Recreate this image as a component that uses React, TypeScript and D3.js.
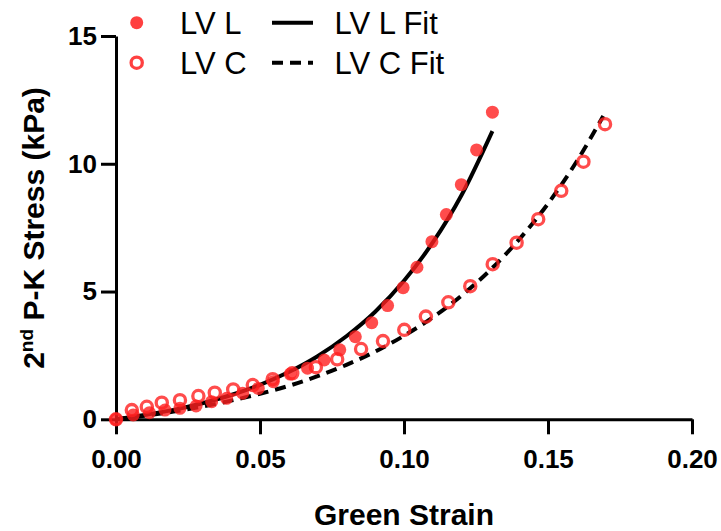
import { useEffect, useRef } from 'react';
import * as d3 from 'd3';

// measured points (Green strain, 2nd P-K stress in kPa)
const lvLStrain = [0, 0.006, 0.0116, 0.017, 0.0222, 0.0278, 0.0332, 0.0384, 0.044, 0.0494, 0.0546, 0.0605, 0.0665, 0.0723, 0.0777, 0.0831, 0.0888, 0.0943, 0.0997, 0.1045, 0.1097, 0.1147, 0.1199, 0.1252, 0.1307];
const lvLStress = [0, 0.17, 0.26, 0.36, 0.43, 0.52, 0.69, 0.82, 1.02, 1.21, 1.47, 1.77, 2.0, 2.32, 2.72, 3.23, 3.78, 4.45, 5.15, 5.95, 6.95, 8.01, 9.18, 10.54, 12.02];

const lvCStrain = [0, 0.0055, 0.0107, 0.0159, 0.0222, 0.0286, 0.0343, 0.0407, 0.0475, 0.0544, 0.0612, 0.0694, 0.0768, 0.0851, 0.0927, 0.1001, 0.1076, 0.1154, 0.123, 0.1308, 0.1391, 0.1466, 0.1546, 0.1623, 0.1698];
const lvCStress = [0, 0.36, 0.49, 0.65, 0.75, 0.91, 1.04, 1.17, 1.34, 1.57, 1.8, 2.04, 2.35, 2.75, 3.06, 3.5, 4.02, 4.58, 5.21, 6.07, 6.91, 7.83, 8.94, 10.08, 11.55];

// fit curves
const fitLStrain = [0, 0.01, 0.02, 0.03, 0.04, 0.05, 0.06, 0.07, 0.08, 0.09, 0.1, 0.11, 0.12, 0.1307];
const fitLStress = [0, 0.17, 0.37, 0.63, 0.95, 1.35, 1.85, 2.47, 3.25, 4.21, 5.42, 6.92, 8.78, 11.28];

const fitCStrain = [0, 0.01, 0.02, 0.03, 0.04, 0.05, 0.06, 0.07, 0.08, 0.09, 0.1, 0.11, 0.12, 0.13, 0.14, 0.15, 0.16, 0.1692];
const fitCStress = [0, 0.14, 0.3, 0.5, 0.73, 1.0, 1.31, 1.69, 2.13, 2.65, 3.27, 3.99, 4.84, 5.85, 7.04, 8.44, 10.1, 11.87];

const xTicks = [0, 0.05, 0.1, 0.15, 0.2];
const yTicks = [0, 5, 10, 15];

const legendItems = ['LV L', 'LV C'];
const fitLegendItems = ['LV L Fit', 'LV C Fit'];

const FONT = '"Liberation Sans", Arial, Helvetica, sans-serif';
const RED = '#ff1f1f';
const DASH = '11,7';

export default function App() {
    const ref = useRef<SVGSVGElement>(null);

    useEffect(() => {
        const svg = d3.select(ref.current);
        svg.selectAll('*').remove();

        const x = d3.scaleLinear().domain([0, 0.2]).range([116, 692]);
        const y = d3.scaleLinear().domain([0, 15]).range([419.3, 36]);

        // axes
        const xAxis = svg.append('g')
            .attr('transform', `translate(0,${y(0)})`)
            .call(d3.axisBottom(x).tickValues(xTicks).tickFormat(d3.format('.2f')).tickSize(15).tickSizeOuter(0).tickPadding(15));
        const yAxis = svg.append('g')
            .attr('transform', `translate(${x(0)},0)`)
            .call(d3.axisLeft(y).tickValues(yTicks).tickFormat(d3.format('d')).tickSize(15).tickSizeOuter(0).tickPadding(4));

        [xAxis, yAxis].forEach(g => {
            g.select('.domain').attr('stroke', '#000').attr('stroke-width', 3);
            g.selectAll('.tick line').attr('stroke', '#000').attr('stroke-width', 3);
            g.selectAll('.tick text')
                .attr('fill', '#000')
                .style('font-family', FONT)
                .style('font-size', '26px')
                .style('font-weight', 'bold');
        });

        // fit lines
        const lineGen = d3.line<[number, number]>()
            .x(d => x(d[0]))
            .y(d => y(d[1]))
            .curve(d3.curveMonotoneX);

        svg.append('path')
            .datum(fitCStrain.map((v, i) => [v, fitCStress[i]] as [number, number]))
            .attr('d', lineGen)
            .attr('fill', 'none')
            .attr('stroke', '#000')
            .attr('stroke-width', 4)
            .attr('stroke-dasharray', DASH);

        svg.append('path')
            .datum(fitLStrain.map((v, i) => [v, fitLStress[i]] as [number, number]))
            .attr('d', lineGen)
            .attr('fill', 'none')
            .attr('stroke', '#000')
            .attr('stroke-width', 4);

        // open circles (LV C)
        svg.append('g')
            .selectAll('circle')
            .data(lvCStrain.map((v, i) => [v, lvCStress[i]]))
            .join('circle')
            .attr('cx', d => x(d[0]))
            .attr('cy', d => y(d[1]))
            .attr('r', 5.6)
            .attr('fill', 'none')
            .attr('stroke', RED)
            .attr('stroke-width', 3.3)
            .attr('opacity', 0.8);

        // filled dots (LV L)
        svg.append('g')
            .selectAll('circle')
            .data(lvLStrain.map((v, i) => [v, lvLStress[i]]))
            .join('circle')
            .attr('cx', d => x(d[0]))
            .attr('cy', d => y(d[1]))
            .attr('r', 6.5)
            .attr('fill', RED)
            .attr('opacity', 0.8);

        // legend
        const legend = svg.append('g');
        const rows = [22.7, 62.7];
        legend.append('circle').attr('cx', 136.7).attr('cy', rows[0]).attr('r', 6.5).attr('fill', RED).attr('opacity', 0.85);
        legend.append('circle').attr('cx', 136.7).attr('cy', rows[1]).attr('r', 5.6).attr('fill', 'none')
            .attr('stroke', RED).attr('stroke-width', 3.3).attr('opacity', 0.85);
        legend.append('line').attr('x1', 272).attr('x2', 313).attr('y1', rows[0]).attr('y2', rows[0])
            .attr('stroke', '#000').attr('stroke-width', 4);
        legend.append('line').attr('x1', 272).attr('x2', 313).attr('y1', rows[1]).attr('y2', rows[1])
            .attr('stroke', '#000').attr('stroke-width', 4).attr('stroke-dasharray', DASH);

        legendItems.forEach((t, i) => {
            legend.append('text').attr('x', 180).attr('y', rows[i] + 11).text(t)
                .style('font-family', FONT).style('font-size', '31px').attr('fill', '#000');
        });
        fitLegendItems.forEach((t, i) => {
            legend.append('text').attr('x', 334.5).attr('y', rows[i] + 11).text(t)
                .style('font-family', FONT).style('font-size', '31px').attr('fill', '#000');
        });

        // axis titles
        svg.append('text')
            .attr('x', 404).attr('y', 525)
            .attr('text-anchor', 'middle')
            .style('font-family', FONT).style('font-size', '30px').style('font-weight', 'bold')
            .text('Green Strain');

        const yTitle = svg.append('text')
            .attr('transform', `translate(44,228) rotate(-90)`)
            .attr('text-anchor', 'middle')
            .style('font-family', FONT).style('font-size', '30px').style('font-weight', 'bold');
        yTitle.append('tspan').text('2');
        yTitle.append('tspan').attr('dy', -11).style('font-size', '19px').text('nd');
        yTitle.append('tspan').attr('dy', 11).text(' P-K Stress (kPa)');

        return () => {
            svg.selectAll('*').remove();
        };
    }, []);

    return (
        <svg
            ref={ref}
            width={721}
            height={531}
            style={{ position: 'absolute', left: 0, top: 0, background: '#fff' }}
        />
    );
}
